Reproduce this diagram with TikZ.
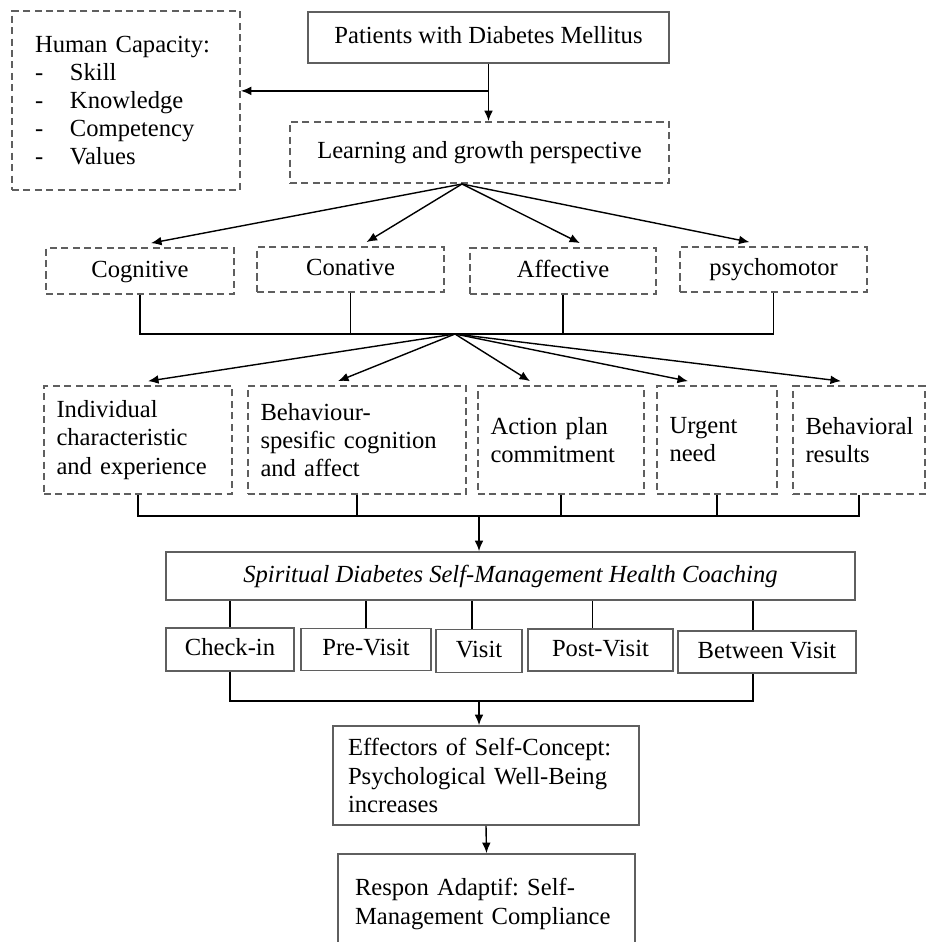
\documentclass[tikz,border=0pt]{standalone}
\usepackage{fontspec}
\setmainfont{Liberation Serif}
\usetikzlibrary{arrows.meta,calc}
\definecolor{boxgray}{RGB}{95,95,95}
\tikzset{
    txt/.style={font=\fontsize{14}{16}\selectfont\frenchspacing},
    dbox/.style={txt, draw=boxgray, line width=1pt, dash pattern=on 4pt off 2.5pt, inner sep=0pt},
    sbox/.style={txt, draw=boxgray, line width=1pt, inner sep=0pt},
    lbox/.style={align=left, inner xsep=0.25cm},
    oneline/.style={text height=2.1ex, text depth=0.6ex},
    link/.style={line width=0.8pt},
    arr/.style={link, -{Latex[length=6pt,width=5pt]}}
}

\begin{document}
\begin{tikzpicture}[x=0.02cm, y=-0.02cm]
            \useasboundingbox (0,0) rectangle (927,942);

            \node[dbox, align=left, inner xsep=0.46cm, text width=3.64cm, minimum height=3.58cm] (hc) at (126,100.5)
                {Human Capacity:\\ \makebox[0.7cm][l]{-}Skill\\ \makebox[0.7cm][l]{-}Knowledge\\ \makebox[0.7cm][l]{-}Competency\\ \makebox[0.7cm][l]{-}Values};
            \node[sbox, oneline, minimum width=7.22cm, minimum height=1.02cm] (pat) at (488.5,37.5) {Patients with Diabetes Mellitus};
            \node[dbox, oneline, minimum width=7.58cm, minimum height=1.22cm] (learn) at (479.5,152.5) {Learning and growth perspective};

            \node[dbox, oneline, minimum width=3.76cm, minimum height=0.92cm] (cog) at (140,271) {Cognitive};
            \node[dbox, oneline, minimum width=3.74cm, minimum height=0.9cm] (con) at (350.5,269.5) {Conative};
            \node[dbox, oneline, minimum width=3.72cm, minimum height=0.92cm] (aff) at (563,271) {Affective};
            \node[dbox, oneline, minimum width=3.74cm, minimum height=0.9cm] (psy) at (773.5,269.5) {psychomotor};

            \node[dbox, lbox, text width=3.26cm, minimum height=2.16cm] (ind) at (138,440) {Individual\\ characteristic\\ and experience};
            \node[dbox, lbox, text width=3.86cm, minimum height=2.16cm] (beh) at (357,440) {Behaviour-\\ spesific cognition\\ and affect};
            \node[dbox, lbox, text width=2.82cm, minimum height=2.16cm] (act) at (561,440) {Action plan\\ commitment};
            \node[dbox, lbox, text width=1.9cm, minimum height=2.16cm] (urg) at (717,440) {Urgent\\ need};
            \node[dbox, lbox, text width=2.14cm, minimum height=2.16cm] (bres) at (859,440) {Behavioral\\ results};

            \node[sbox, oneline, minimum width=13.78cm, minimum height=0.96cm, font=\fontsize{14}{16}\selectfont\itshape] (spir) at (510.5,576)
                {Spiritual Diabetes Self-Management Health Coaching};

            \node[sbox, oneline, minimum width=2.56cm, minimum height=0.86cm] (chk) at (230,649.5) {Check-in};
            \node[sbox, oneline, minimum width=2.6cm, minimum height=0.84cm] (pre) at (366,649.5) {Pre-Visit};
            \node[sbox, oneline, minimum width=1.72cm, minimum height=0.86cm] (vis) at (479,651) {Visit};
            \node[sbox, oneline, minimum width=2.9cm, minimum height=0.84cm] (post) at (600.5,650) {Post-Visit};
            \node[sbox, oneline, minimum width=3.56cm, minimum height=0.84cm] (btw) at (767,652) {Between Visit};

            \node[sbox, align=left, inner xsep=0.3cm, text width=5.52cm, minimum height=1.98cm] (eff) at (486,775.5)
                {Effectors of Self-Concept:\\ Psychological Well-Being\\ increases};
            \node[sbox, align=left, inner xsep=0.34cm, text width=5.26cm, minimum height=2cm] (resp) at (486.5,904)
                {Respon Adaptif: Self-\\ Management Compliance};

            \path (pat.south) ++(0,27) coordinate (j0);
            \draw[link] (pat.south) -- (j0);
            \draw[arr] (j0) -- (j0 |- learn.north);
            \draw[arr] (j0) -- (j0 -| hc.east);

            \coordinate (f1) at (462,184);
            \foreach \n/\dx in {cog/11, con/16, aff/17, psy/-24}
                \draw[arr] (f1) -- ($(\n.north)+(\dx,-4)$);

            \coordinate (f2) at (455,334);
            \draw[link] (cog.south) -- (cog.south |- f2) -- (psy.south |- f2) -- (psy.south);
            \foreach \n in {con, aff}
                \draw[link] (\n.south) -- (\n.south |- f2);
            \foreach \n/\dx in {ind/10, beh/-19, act/-31, urg/-29, bres/-18}
                \draw[arr] (f2) -- ($(\n.north)+(\dx,-4)$);

            \coordinate (j3) at (479,516);
            \draw[link] (ind.south) -- (ind.south |- j3) -- (bres.south |- j3) -- (bres.south);
            \foreach \n in {beh, act, urg}
                \draw[link] (\n.south) -- (\n.south |- j3);
            \draw[arr] (j3) -- (j3 |- spir.north);

            \foreach \n/\dx in {chk/0, pre/0, vis/-7, post/-8, btw/-14}{
                \path ($(\n.north)+(\dx,0)$) coordinate (top);
                \draw[link] (top) -- (top |- spir.south);
            }

            \coordinate (j4) at (479,701);
            \path ($(btw.south)+(-14,0)$) coordinate (bb);
            \draw[link] (chk.south) -- (chk.south |- j4) -- (bb |- j4) -- (bb);
            \draw[arr] (j4) -- (j4 |- eff.north);
            \draw[arr] (eff.south) -- (resp.north);
        \end{tikzpicture}
\end{document}
